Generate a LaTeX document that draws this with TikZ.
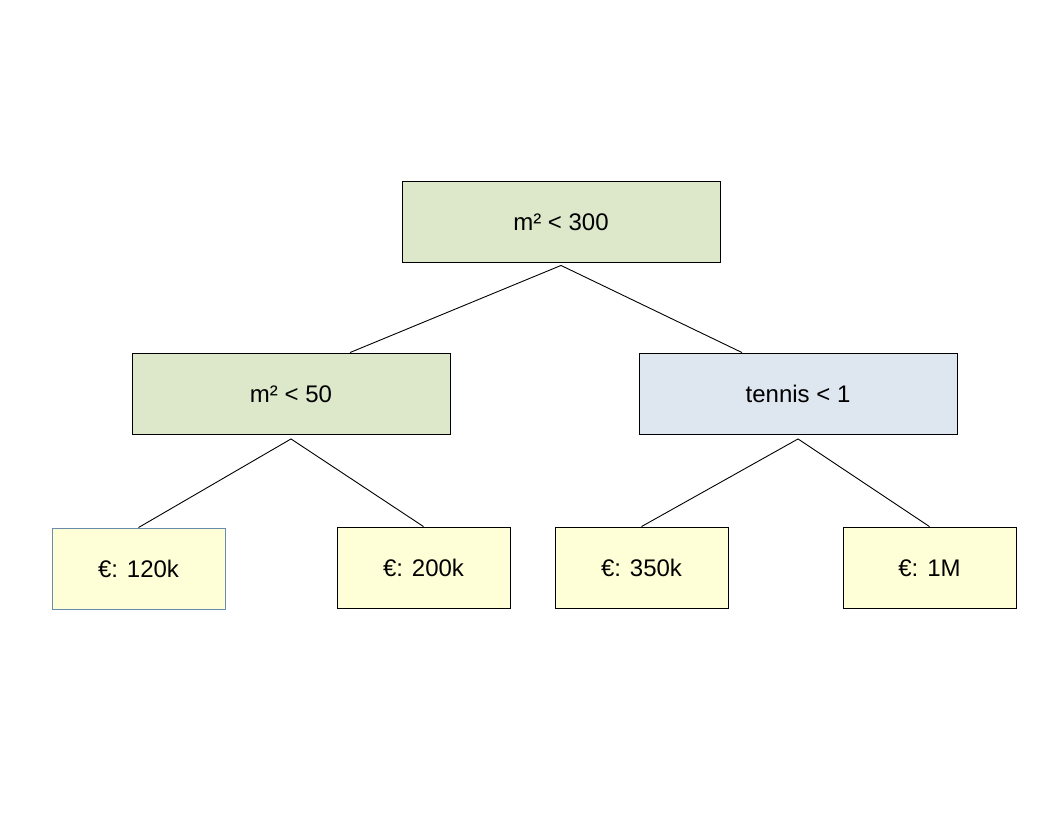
\documentclass[tikz,border=0pt]{standalone}
\usepackage{fontspec}
\setmainfont{Liberation Sans}
\definecolor{splitgreen}{HTML}{DDE8CB}
\definecolor{splitblue}{HTML}{DEE6EF}
\definecolor{leafyellow}{HTML}{FFFFD7}
\definecolor{leafedge}{HTML}{6A8AAE}
\tikzset{
  box/.style={draw=black, line width=0.9pt, minimum height=81pt, inner sep=0pt,
    text height=18pt, text depth=1pt, font=\fontsize{24}{28}\selectfont},
  splitbox/.style={box, minimum width=318pt, fill=splitgreen},
  leafbox/.style={box, minimum width=173pt, fill=leafyellow},
  edge/.style={draw=black, line width=0.9pt}
}
\begin{document}
\begin{tikzpicture}[x=1pt,y=-1pt]
  \useasboundingbox (0,0) rectangle (1056,816);
  % decision nodes
  \node[splitbox] (root) at (561,221.5) {m² < 300};
  \node[splitbox] (small) at (291,393.5) {m² < 50};
  \node[splitbox, fill=splitblue] (tennis) at (798,393.5) {tennis < 1};
  % leaves
  \node[leafbox, draw=leafedge] (p120) at (138.5,568.5) {€: 120k};
  \node[leafbox] (p200) at (423.5,567.5) {€: 200k};
  \node[leafbox] (p350) at (641.5,567.5) {€: 350k};
  \node[leafbox] (p1m) at (929.5,567.5) {€: 1M};
  % branches
  \draw[edge] ([yshift=-3pt]root.south) -- ([xshift=59pt]small.north);
  \draw[edge] ([yshift=-3pt]root.south) -- ([xshift=-56pt]tennis.north);
  \draw[edge] ([yshift=-4.5pt]small.south) -- (p120.north);
  \draw[edge] ([yshift=-4.5pt]small.south) -- (p200.north);
  \draw[edge] ([yshift=-4.5pt]tennis.south) -- (p350.north);
  \draw[edge] ([yshift=-4.5pt]tennis.south) -- (p1m.north);
\end{tikzpicture}
\end{document}
